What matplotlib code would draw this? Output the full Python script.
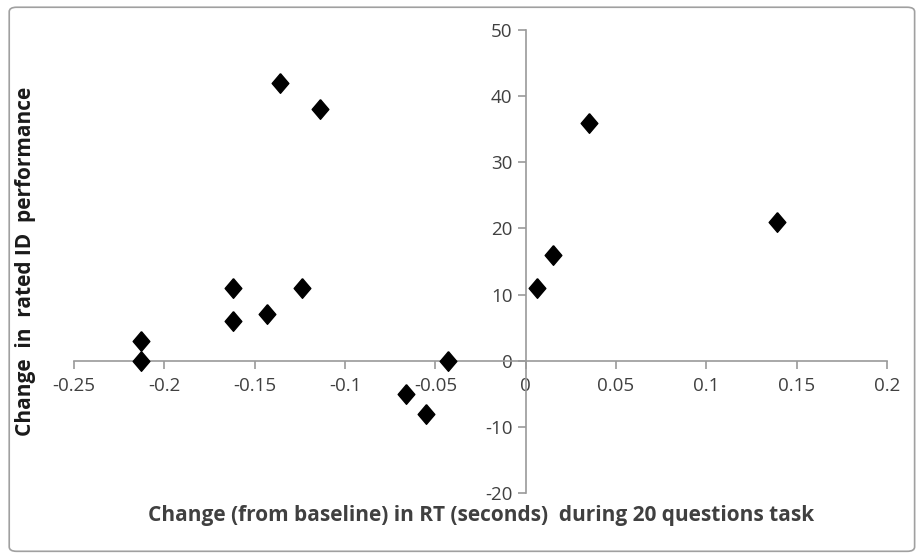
import matplotlib.pyplot as plt
from matplotlib.patches import FancyBboxPatch

# change in RT (s) vs change in rated ID performance
rt_change = [-0.213, -0.213, -0.162, -0.162, -0.143, -0.124, -0.136, -0.114,
             -0.066, -0.055, -0.043, 0.006, 0.015, 0.035, 0.139]
id_change = [3, 0, 11, 6, 7, 11, 42, 38, -5, -8, 0, 11, 16, 36, 21]

x_ticks = [-0.25, -0.2, -0.15, -0.1, -0.05, 0, 0.05, 0.1, 0.15, 0.2]
x_labels = ['-0.25', '-0.2', '-0.15', '-0.1', '-0.05', '0', '0.05', '0.1', '0.15', '0.2']
y_ticks = [-20, -10, 0, 10, 20, 30, 40, 50]

plt.rcParams['font.family'] = ['Open Sans', 'DejaVu Sans']
plt.rcParams['axes.unicode_minus'] = False

fig = plt.figure(figsize=(9.22, 5.58), dpi=100)
# frame around the chart area, like the excel chart border
fig.patches.append(FancyBboxPatch((0.01, 0.012), 0.982, 0.975, boxstyle='round,pad=0,rounding_size=0.008',
                                  transform=fig.transFigure, fill=False, edgecolor='#a0a0a0', lw=1.2))

ax = fig.add_axes([74 / 922, 1 - 493 / 558, (887 - 74) / 922, (493 - 30) / 558])

diamond = [(0, 1), (0.85, 0), (0, -1), (-0.85, 0), (0, 1)]
ax.scatter(rt_change, id_change, marker=diamond, s=200, color='black', zorder=3)

ax.set_xlim(-0.25, 0.2)
ax.set_ylim(-20, 50)

ax.spines['left'].set_position(('data', 0))
ax.spines['bottom'].set_position(('data', 0))
ax.spines['right'].set_visible(False)
ax.spines['top'].set_visible(False)
for s in ['left', 'bottom']:
    ax.spines[s].set_color('#9a9a9a')
    ax.spines[s].set_linewidth(1.2)

ax.set_xticks(x_ticks)
ax.set_xticklabels(x_labels)
ax.set_yticks(y_ticks)
ax.tick_params(axis='both', direction='out', length=6, width=1.2, color='#9a9a9a',
               labelsize=13.5, labelcolor='#404040')
ax.tick_params(axis='x', pad=6)

fig.text(0.028, 0.532, 'Change  in  rated ID  performance', rotation=90, ha='center', va='center',
         fontsize=15, fontweight='bold', color='#1a1a1a')
fig.text(0.522, 0.077, 'Change (from baseline) in RT (seconds)  during 20 questions task', ha='center',
         va='center', fontsize=15, fontweight='bold', color='#404040')

fig.savefig('out.png', dpi=100)
